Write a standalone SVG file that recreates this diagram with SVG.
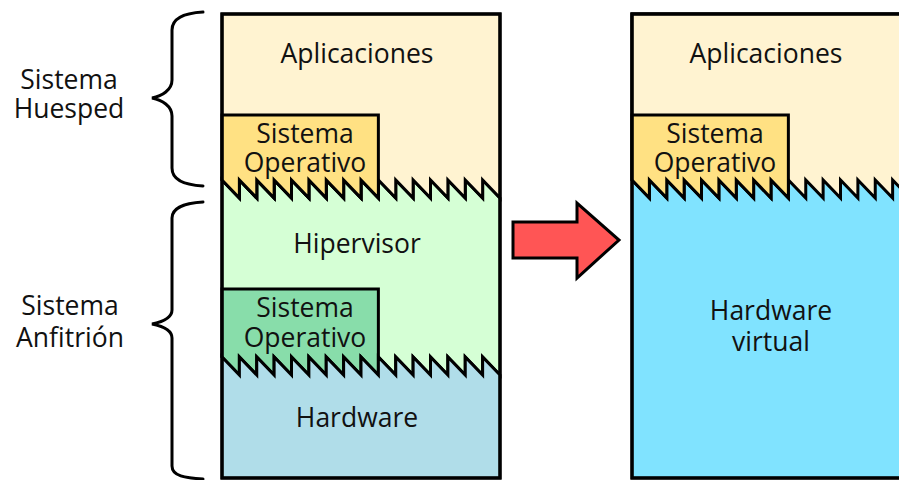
<svg xmlns="http://www.w3.org/2000/svg" width="899" height="480" viewBox="0 0 899 480">
  <style>
    .layer { stroke: #000; stroke-width: 3; stroke-linejoin: miter; stroke-miterlimit: 10; }
    .frame { fill: none; stroke: #000; stroke-width: 3.2; }
    .brace { fill: none; stroke: #000; stroke-width: 3; stroke-linecap: round; }
    .lbl { font-family: "Open Sans", "Noto Sans", "DejaVu Sans", sans-serif; font-size: 26.5px; fill: #111; text-anchor: middle; }
    .app { fill: #FFF3D1; }
    .os-guest { fill: #FFE183; }
    .hyp { fill: #D5FFD5; }
    .os-host { fill: #88DDAA; }
    .hw { fill: #B0DDE9; }
    .vhw { fill: #80E3FF; }
  </style>

  <rect width="899" height="480" fill="#fff"/>

  <!-- Left stack: host with hypervisor and guest -->
  <g id="stack-host">
    <g id="hipervisor">
      <path class="layer hyp" d="M222,180l17.375,18v-18l17.375,18v-18l17.375,18v-18l17.375,18v-18l17.375,18v-18l17.375,18v-18l17.375,18v-18l17.375,18v-18l17.375,18v-18l17.375,18v-18l17.375,18v-18l17.375,18v-18l17.375,18v-18l17.375,18v-18l17.375,18v-18l17.375,18V375l-17.375,-18v18l-17.375,-18v18l-17.375,-18v18l-17.375,-18v18l-17.375,-18v18l-17.375,-18v18l-17.375,-18v18l-17.375,-18v18l-17.375,-18v18l-17.375,-18v18l-17.375,-18v18l-17.375,-18v18l-17.375,-18v18l-17.375,-18v18l-17.375,-18v18l-17.375,-18Z"/>
      <text class="lbl" x="357" y="253">Hipervisor</text>
    </g>
    <g id="so-anfitrion">
      <path class="layer os-host" d="M222,289H378.375V375l-17.375,-18v18l-17.375,-18v18l-17.375,-18v18l-17.375,-18v18l-17.375,-18v18l-17.375,-18v18l-17.375,-18v18l-17.375,-18v18l-17.375,-18Z"/>
      <text class="lbl" x="305" y="317">Sistema</text>
      <text class="lbl" x="305" y="347">Operativo</text>
    </g>
    <g id="hardware">
      <path class="layer hw" d="M222,357l17.375,18v-18l17.375,18v-18l17.375,18v-18l17.375,18v-18l17.375,18v-18l17.375,18v-18l17.375,18v-18l17.375,18v-18l17.375,18v-18l17.375,18v-18l17.375,18v-18l17.375,18v-18l17.375,18v-18l17.375,18v-18l17.375,18v-18l17.375,18V478H222Z"/>
      <text class="lbl" x="357" y="427">Hardware</text>
    </g>
    <g id="aplicaciones-host">
      <path class="layer app" d="M222,180l17.375,18v-18l17.375,18v-18l17.375,18v-18l17.375,18v-18l17.375,18v-18l17.375,18v-18l17.375,18v-18l17.375,18v-18l17.375,18v-18l17.375,18v-18l17.375,18v-18l17.375,18v-18l17.375,18v-18l17.375,18v-18l17.375,18v-18l17.375,18V14H222Z"/>
      <text class="lbl" x="357" y="63">Aplicaciones</text>
    </g>
    <g id="so-huesped">
      <path class="layer os-guest" d="M222,115H378.375V198l-17.375,-18v18l-17.375,-18v18l-17.375,-18v18l-17.375,-18v18l-17.375,-18v18l-17.375,-18v18l-17.375,-18v18l-17.375,-18v18l-17.375,-18Z"/>
      <text class="lbl" x="305" y="143">Sistema</text>
      <text class="lbl" x="305" y="172">Operativo</text>
    </g>
    <rect class="frame" x="222" y="14" width="278" height="464"/>
  </g>

  <!-- Right stack: guest view on virtual hardware -->
  <g id="stack-guest">
    <g id="hardware-virtual">
      <rect class="layer vhw" x="632" y="14" width="278" height="464"/>
      <text class="lbl" x="771" y="320">Hardware</text>
      <text class="lbl" x="771" y="351">virtual</text>
    </g>
    <g id="aplicaciones-guest">
      <path class="layer app" d="M632,180l17.375,18v-18l17.375,18v-18l17.375,18v-18l17.375,18v-18l17.375,18v-18l17.375,18v-18l17.375,18v-18l17.375,18v-18l17.375,18v-18l17.375,18v-18l17.375,18v-18l17.375,18v-18l17.375,18v-18l17.375,18v-18l17.375,18v-18l17.375,18V14H632Z"/>
      <text class="lbl" x="766" y="63">Aplicaciones</text>
    </g>
    <g id="so-guest">
      <path class="layer os-guest" d="M632,115H788.375V198l-17.375,-18v18l-17.375,-18v18l-17.375,-18v18l-17.375,-18v18l-17.375,-18v18l-17.375,-18v18l-17.375,-18v18l-17.375,-18v18l-17.375,-18Z"/>
      <text class="lbl" x="715" y="143">Sistema</text>
      <text class="lbl" x="715" y="172">Operativo</text>
    </g>
    <rect class="frame" x="632" y="14" width="278" height="464"/>
  </g>

  <!-- Side labels -->
  <g id="label-huesped">
    <text class="lbl" x="69" y="89">Sistema</text>
    <text class="lbl" x="69" y="118">Huesped</text>
  </g>
  <g id="label-anfitrion">
    <text class="lbl" x="70" y="315">Sistema</text>
    <text class="lbl" x="70" y="347">Anfitrión</text>
  </g>

  <!-- Braces and transition arrow -->
  <g id="connectors">
    <path class="brace" d="M203,12C185,13 172,18 172,30V80C172,90 162,96 152,98C162,100 172,106 172,116V168C172,180 185,185 203,186"/>
    <path class="brace" d="M203,202C185,203 172,208 172,218V310C172,318 162,322 152,324C162,326 172,330 172,338V466C172,476 185,478 203,479"/>
    <polygon points="513,222 577,222 577,203 619,240 577,278 577,258 513,258" fill="#FF5555" stroke="#000" stroke-width="3" stroke-linejoin="miter"/>
  </g>
</svg>
